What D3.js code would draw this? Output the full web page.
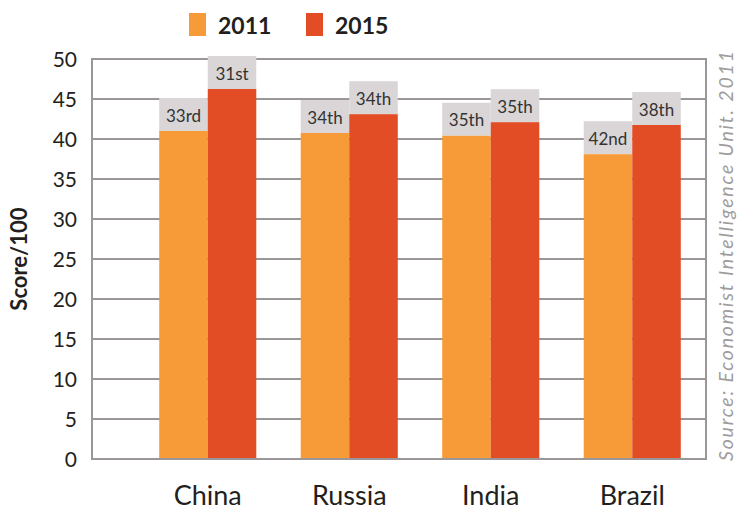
<!DOCTYPE html>
<html>
<head>
<meta charset="utf-8">
<script src="https://cdn.jsdelivr.net/npm/d3@7"></script>
<style>
  body { margin: 0; background: #fff; }
  text { font-family: Lato, "Open Sans", sans-serif; }
</style>
</head>
<body>
<div id="chart"></div>
<script>
const countries = ["China", "Russia", "India", "Brazil"];
const years = ["2011", "2015"];
const scores2011 = [41.0, 40.75, 40.4, 38.1];
const scores2015 = [46.25, 43.1, 42.1, 41.75];
const ranks2011 = ["33rd", "34th", "35th", "42nd"];
const ranks2015 = ["31st", "34th", "35th", "38th"];
const yTicks = [0, 5, 10, 15, 20, 25, 30, 35, 40, 45, 50];

const width = 737,
  height = 510;

const colors = { "2011": "#f79a38", "2015": "#e24d26" };
const gridColor = "#9b9698";

const svg = d3
  .select("#chart")
  .append("svg")
  .attr("width", width)
  .attr("height", height);

const plot = { left: 92, right: 706, top: 59, bottom: 459 };

const y = d3.scaleLinear().domain([0, 50]).range([plot.bottom, plot.top]);

const x = d3
  .scaleBand()
  .domain(countries)
  .range([137, 703])
  .paddingInner(0.314)
  .paddingOuter(0.157);

const xSub = d3.scaleBand().domain(years).range([0, x.bandwidth()]);

// grid lines
svg
  .append("g")
  .selectAll("line")
  .data(yTicks)
  .enter()
  .append("line")
  .attr("x1", plot.left)
  .attr("x2", plot.right)
  .attr("y1", d => y(d))
  .attr("y2", d => y(d))
  .attr("stroke", gridColor)
  .attr("stroke-width", 2);

// frame sides
svg
  .append("g")
  .selectAll("line")
  .data([plot.left, plot.right])
  .enter()
  .append("line")
  .attr("x1", d => d)
  .attr("x2", d => d)
  .attr("y1", y(50) - 1)
  .attr("y2", y(0) + 1)
  .attr("stroke", gridColor)
  .attr("stroke-width", 2);

// y tick labels
svg
  .append("g")
  .selectAll("text")
  .data(yTicks)
  .enter()
  .append("text")
  .attr("x", 77)
  .attr("y", d => y(d) + 8)
  .attr("text-anchor", "end")
  .attr("font-size", 21)
  .attr("fill", "#231f20")
  .text(d => d);

// y axis title
svg
  .append("text")
  .attr("transform", "translate(27," + (plot.top + plot.bottom) / 2 + ") rotate(-90)")
  .attr("text-anchor", "middle")
  .attr("font-size", 22)
  .attr("font-weight", "bold")
  .attr("fill", "#231f20")
  .text("Score/100");

const barData = [];
countries.forEach(function(c, i) {
  barData.push({ country: c, year: "2011", value: scores2011[i], rank: ranks2011[i] });
  barData.push({ country: c, year: "2015", value: scores2015[i], rank: ranks2015[i] });
});

const boxH = 33;

const bars = svg
  .append("g")
  .selectAll("g")
  .data(barData)
  .enter()
  .append("g")
  .attr("transform", d => "translate(" + (x(d.country) + xSub(d.year)) + ",0)");

bars
  .append("rect")
  .attr("x", 0)
  .attr("y", d => y(d.value) - boxH)
  .attr("width", xSub.bandwidth())
  .attr("height", boxH)
  .attr("fill", "#dad6d7");

bars
  .append("rect")
  .attr("x", 0)
  .attr("y", d => y(d.value))
  .attr("width", xSub.bandwidth())
  .attr("height", d => y(0) - y(d.value))
  .attr("fill", d => colors[d.year]);

bars
  .append("text")
  .attr("x", xSub.bandwidth() / 2)
  .attr("y", d => y(d.value) - boxH / 2 + 7)
  .attr("text-anchor", "middle")
  .attr("font-size", 17)
  .attr("fill", "#333")
  .text(d => d.rank);

// bottom line over bars
svg
  .append("line")
  .attr("x1", plot.left - 1)
  .attr("x2", plot.right + 1)
  .attr("y1", y(0))
  .attr("y2", y(0))
  .attr("stroke", gridColor)
  .attr("stroke-width", 2);

// x labels
svg
  .append("g")
  .selectAll("text")
  .data(countries)
  .enter()
  .append("text")
  .attr("x", d => x(d) + x.bandwidth() / 2)
  .attr("y", 505)
  .attr("text-anchor", "middle")
  .attr("font-size", 27)
  .attr("fill", "#231f20")
  .text(d => d);

// legend
const legend = svg
  .append("g")
  .selectAll("g")
  .data(years)
  .enter()
  .append("g")
  .attr("transform", (d, i) => "translate(" + (189 + i * 117) + ",13)");

legend
  .append("rect")
  .attr("width", 17)
  .attr("height", 23)
  .attr("fill", d => colors[d]);

legend
  .append("text")
  .attr("x", 29)
  .attr("y", 21)
  .attr("font-size", 23)
  .attr("font-weight", "bold")
  .attr("fill", "#231f20")
  .text(d => d);

// source
svg
  .append("text")
  .attr("transform", "translate(733,256) rotate(-90)")
  .attr("text-anchor", "middle")
  .attr("font-size", 19.5)
  .attr("font-style", "italic")
  .attr("textLength", 410)
  .attr("lengthAdjust", "spacing")
  .attr("fill", "#a09c9d")
  .text("Source: Economist Intelligence Unit. 2011");
</script>
</body>
</html>
